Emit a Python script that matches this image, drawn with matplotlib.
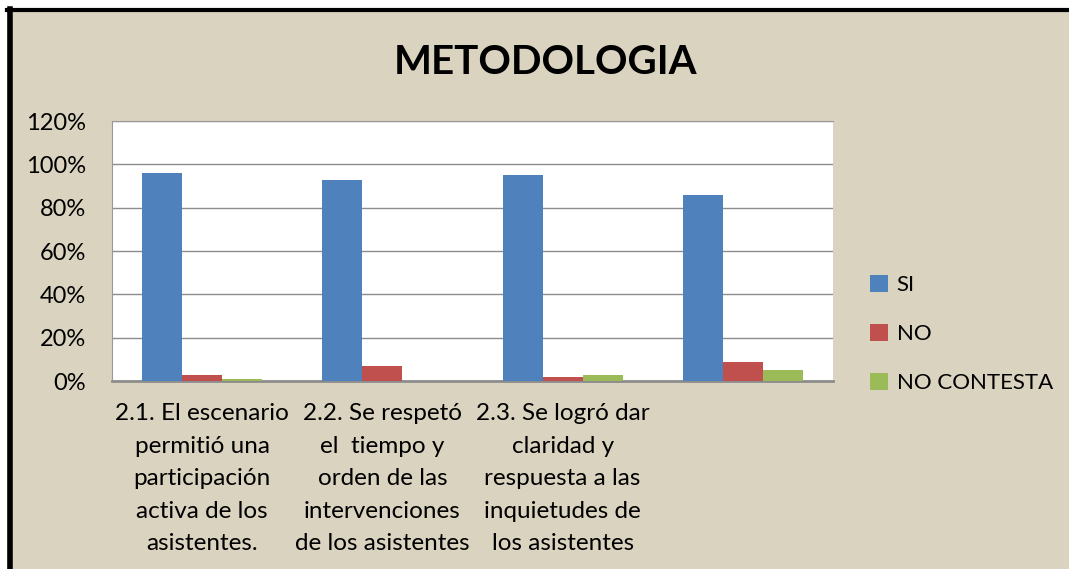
import numpy as np
import matplotlib.pyplot as plt
from matplotlib.patches import Rectangle

categorias = ['2.1. El escenario\npermitió una\nparticipación\nactiva de los\nasistentes.',
              '2.2. Se respetó\nel  tiempo y\norden de las\nintervenciones\nde los asistentes',
              '2.3. Se logró dar\nclaridad y\nrespuesta a las\ninquietudes de\nlos asistentes',
              '']
si = [0.96, 0.93, 0.95, 0.86]
no = [0.03, 0.07, 0.02, 0.09]
no_contesta = [0.01, 0.0, 0.03, 0.05]
series = ['SI', 'NO', 'NO CONTESTA']
colores = ['#4F81BD', '#C0504D', '#9BBB59']

plt.rcParams['font.family'] = ['Lato', 'DejaVu Sans']

fig = plt.figure(figsize=(10.69, 5.69), dpi=100)
fig.patch.set_facecolor('white')
# fondo beige
fig.add_artist(Rectangle((0.007, 0), 0.993, 0.984, transform=fig.transFigure,
                         facecolor='#dad3c0', edgecolor='none', zorder=-10))
# borde negro izquierda y arriba
fig.add_artist(plt.Line2D([0.009, 0.009], [0, 0.984], color='black', lw=4,
                          transform=fig.transFigure, zorder=-5))
fig.add_artist(plt.Line2D([0.007, 1.0], [0.982, 0.982], color='black', lw=3,
                          transform=fig.transFigure, zorder=-5))

ax = fig.add_axes([0.1048, 0.3304, 0.6745, 0.4569])
ax.set_facecolor('white')

x = np.arange(len(categorias))
w = 0.222
for i, (vals, nom, col) in enumerate(zip([si, no, no_contesta], series, colores)):
    ax.bar(x + (i - 1) * w, vals, w, color=col, label=nom, zorder=3)

ax.set_xlim(-0.5, len(categorias) - 0.5)
ax.set_ylim(0, 1.2)
ax.set_yticks(np.arange(0, 1.21, 0.2))
ax.set_yticklabels([f'{int(round(v * 100))}%' for v in np.arange(0, 1.21, 0.2)])
ax.yaxis.grid(True, color='#8c8c8c', lw=1, zorder=0)
ax.set_xticks(x)
ax.set_xticklabels(categorias, fontsize=17.5, linespacing=1.68, va='top')
ax.tick_params(axis='x', length=0, pad=16)
ax.tick_params(axis='y', length=0, labelsize=17, pad=19)
for s in ['left', 'top', 'right']:
    ax.spines[s].set_color('#9a9a9a')
ax.spines['right'].set_visible(False)
ax.spines['bottom'].set_color('#8c8c8c')
ax.spines['bottom'].set_linewidth(2)

fig.text(0.51, 0.89, 'METODOLOGIA', ha='center', va='center', fontsize=29, fontweight='bold')

fig.legend(loc='center left', bbox_to_anchor=(0.795, 0.413), frameon=False, fontsize=16,
           handlelength=0.8, handleheight=0.8, handletextpad=0.4, labelspacing=1.3)

fig.savefig('out.png', dpi=100)
